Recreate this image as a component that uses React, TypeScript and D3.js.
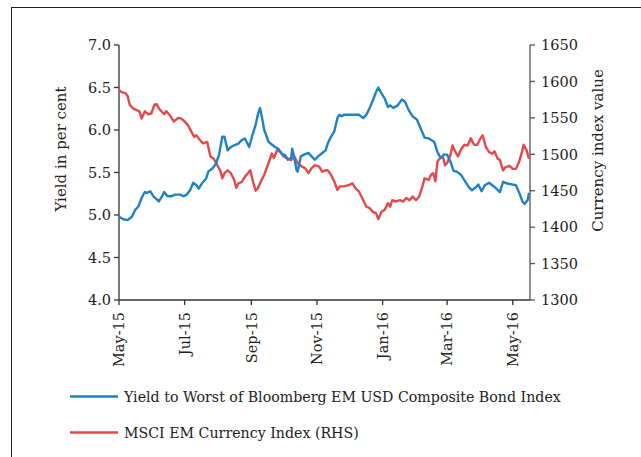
import React from "react";
import * as d3 from "d3";

// days since 1 May 2015
const yieldDays = [0,4,8,12,15,18,21,24,26,29,32,37,40,42,45,49,52,57,60,63,66,69,72,74,77,81,83,87,90,93,96,98,101,104,107,111,114,117,121,124,127,129,131,133,135,139,142,145,148,152,154,157,160,161,163,165,166,169,172,176,179,182,185,189,192,194,197,200,203,205,207,209,214,219,223,227,230,233,236,239,241,244,247,250,252,255,259,263,266,269,273,277,281,284,288,293,296,299,302,305,308,311,314,318,322,325,328,332,334,337,340,344,349,354,357,361,365,369,372,375,377,380,381];
const yieldValues = [4.98,4.95,4.94,4.98,5.06,5.10,5.20,5.27,5.26,5.28,5.22,5.16,5.22,5.27,5.22,5.22,5.24,5.24,5.22,5.24,5.29,5.38,5.35,5.31,5.37,5.43,5.51,5.55,5.60,5.71,5.92,5.92,5.76,5.80,5.82,5.84,5.88,5.90,5.80,5.94,6.06,6.18,6.26,6.14,6.00,5.86,5.83,5.80,5.78,5.71,5.71,5.65,5.67,5.78,5.67,5.53,5.51,5.69,5.71,5.73,5.69,5.65,5.69,5.73,5.76,5.84,5.92,5.98,6.14,6.18,6.16,6.18,6.18,6.18,6.18,6.14,6.18,6.26,6.35,6.45,6.50,6.43,6.37,6.27,6.29,6.26,6.29,6.36,6.33,6.24,6.16,6.12,6.00,5.91,5.90,5.86,5.74,5.67,5.71,5.71,5.63,5.52,5.51,5.47,5.39,5.33,5.29,5.33,5.36,5.28,5.35,5.38,5.33,5.27,5.39,5.37,5.36,5.35,5.26,5.16,5.13,5.18,5.26];

const currencyDays = [0,3,6,8,10,13,16,19,21,24,27,30,33,35,37,40,42,44,47,51,55,58,61,64,68,70,72,75,78,82,85,88,91,94,96,98,101,104,107,109,111,114,117,122,125,127,129,132,135,139,142,144,147,150,153,157,160,163,166,170,173,176,179,182,186,189,192,194,197,200,203,205,209,214,217,220,223,227,230,233,236,239,241,244,247,250,252,254,257,261,264,267,270,273,276,279,282,284,288,290,292,294,296,298,301,303,305,308,310,312,315,318,321,324,327,330,333,336,338,341,344,347,349,352,354,357,359,363,366,369,372,375,376,379,381];
const currencyValues = [1588,1585,1584,1580,1568,1563,1561,1559,1549,1559,1555,1556,1568,1569,1563,1558,1555,1559,1554,1545,1550,1549,1545,1540,1529,1524,1526,1520,1515,1517,1497,1494,1486,1478,1467,1474,1478,1474,1465,1454,1460,1462,1469,1478,1460,1450,1453,1463,1472,1488,1501,1495,1506,1503,1497,1494,1492,1497,1488,1483,1481,1474,1481,1485,1483,1476,1478,1478,1472,1463,1451,1456,1456,1458,1460,1453,1449,1437,1428,1426,1421,1419,1411,1421,1424,1433,1428,1437,1435,1437,1435,1440,1437,1442,1437,1442,1456,1467,1465,1472,1474,1463,1490,1494,1497,1485,1488,1499,1512,1505,1497,1507,1513,1512,1522,1513,1513,1522,1526,1510,1503,1501,1504,1494,1492,1478,1482,1484,1480,1480,1490,1506,1513,1505,1494];

const leftTicks = [4.0, 4.5, 5.0, 5.5, 6.0, 6.5, 7.0];
const rightTicks = [1300, 1350, 1400, 1450, 1500, 1550, 1600, 1650];
const xTickDates = ["2015-05-01","2015-07-01","2015-09-01","2015-11-01","2016-01-01","2016-03-01","2016-05-01"];
const seriesNames = ["Yield to Worst of Bloomberg EM USD Composite Bond Index", "MSCI EM Currency Index (RHS)"];
const axisTitles = ["Yield in per cent", "Currency index value"];

const startDate = new Date(2015, 4, 1);
const endDate = new Date(2016, 4, 17);
const parse = d3.timeParse("%Y-%m-%d");
const fmt = d3.timeFormat("%b-%y");

const BLUE = "#1f82c6";
const RED = "#e24a4b";
const AXIS = "#333";
const FONT = "'DejaVu Serif', serif";

export default function App() {
  const x = d3.scaleTime().domain([startDate, endDate]).range([119, 530]);
  const yL = d3.scaleLinear().domain([4, 7]).range([300, 45]);
  const yR = d3.scaleLinear().domain([1300, 1650]).range([300, 45]);
  const day = (n: number) => d3.timeDay.offset(startDate, n);

  const yieldData = yieldDays.map((d, i) => ({ date: day(d), v: yieldValues[i] }));
  const curData = currencyDays.map((d, i) => ({ date: day(d), v: currencyValues[i] }));

  const lineL = d3.line<{ date: Date; v: number }>().x(d => x(d.date)).y(d => yL(d.v));
  const lineR = d3.line<{ date: Date; v: number }>().x(d => x(d.date)).y(d => yR(d.v));

  const [x0, x1] = x.range();
  return (
    <svg width={641} height={457} style={{ position: "absolute", left: 0, top: 0, fontFamily: FONT }}>
      <rect x={0} y={0} width={641} height={457} fill="#fff" />
      <rect x={11.5} y={7.5} width={700} height={600} fill="none" stroke="#222" strokeWidth={1} />

      {/* left axis */}
      <line x1={x0} x2={x0} y1={45} y2={300} stroke={AXIS} strokeWidth={1.3} />
      {leftTicks.map(t => (
        <g key={"l" + t}>
          <line x1={x0 - 5} x2={x0} y1={yL(t)} y2={yL(t)} stroke={AXIS} strokeWidth={1.3} />
          <text x={x0 - 8} y={yL(t)} dy="0.36em" textAnchor="end" fontSize={14.5} fill="#222">{t.toFixed(1)}</text>
        </g>
      ))}
      {/* right axis */}
      <line x1={x1} x2={x1} y1={45} y2={300} stroke="#555" strokeWidth={1.3} />
      {rightTicks.map(t => (
        <g key={"r" + t}>
          <line x1={x1} x2={x1 + 5} y1={yR(t)} y2={yR(t)} stroke="#555" strokeWidth={1.3} />
          <text x={x1 + 11} y={yR(t)} dy="0.36em" textAnchor="start" fontSize={14.5} fill="#222">{t}</text>
        </g>
      ))}
      {/* x axis */}
      <line x1={x0} x2={x1} y1={300} y2={300} stroke={AXIS} strokeWidth={1.3} />
      {xTickDates.map(s => {
        const d = parse(s) as Date;
        const px = x(d);
        return (
          <g key={s}>
            <line x1={px} x2={px} y1={300} y2={305} stroke={AXIS} strokeWidth={1.3} />
            <text transform={`translate(${px},${312}) rotate(-90)`} dy="0.36em" textAnchor="end" fontSize={14.5} fill="#222">{fmt(d)}</text>
          </g>
        );
      })}

      <text transform="translate(66,149) rotate(-90)" textAnchor="middle" fontSize={15} fill="#222">{axisTitles[0]}</text>
      <text transform="translate(603,150.5) rotate(-90)" textAnchor="middle" fontSize={15} fill="#222">{axisTitles[1]}</text>

      <path d={lineR(curData) || ""} fill="none" stroke={RED} strokeWidth={2.4} strokeLinejoin="round" />
      <path d={lineL(yieldData) || ""} fill="none" stroke={BLUE} strokeWidth={2.4} strokeLinejoin="round" />

      {/* legend */}
      {seriesNames.map((n, i) => {
        const ly = 396.5 + i * 36;
        return (
          <g key={n}>
            <line x1={70} x2={118} y1={ly} y2={ly} stroke={i === 0 ? BLUE : RED} strokeWidth={2.4} />
            <text x={124} y={ly} dy="0.36em" fontSize={14.2} fill="#222">{n}</text>
          </g>
        );
      })}
    </svg>
  );
}
